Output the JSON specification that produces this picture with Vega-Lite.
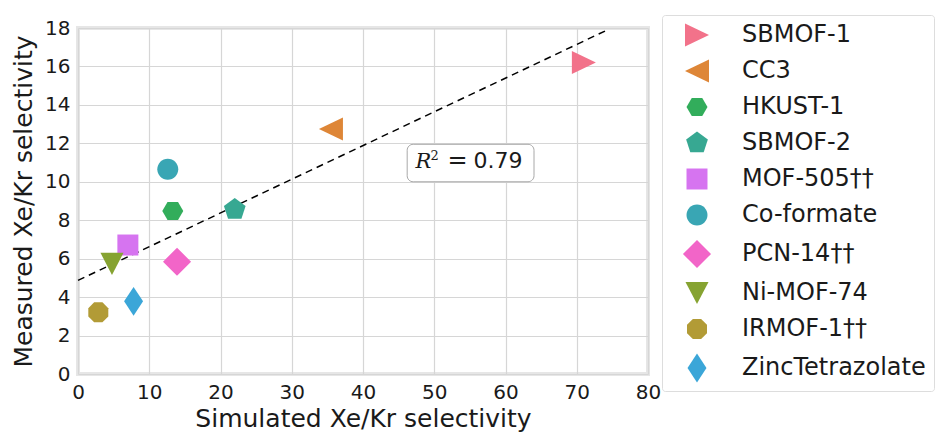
{
  "$schema": "https://vega.github.io/schema/vega-lite/v6.json",
  "width": 570,
  "height": 346,
  "autosize": {"type": "none"},
  "padding": {"left": 78, "top": 28, "right": 296, "bottom": 61},
  "background": "white",
  "config": {
    "font": "DejaVu Sans",
    "view": {"stroke": "#e6e6e6", "strokeWidth": 4},
    "axis": {
      "domain": false,
      "ticks": false,
      "gridColor": "#d6d6d6",
      "gridWidth": 1.2,
      "labelFont": "DejaVu Sans",
      "labelFontSize": 20,
      "labelColor": "#1a1a1a",
      "labelOverlap": false,
      "labelFlush": false,
      "titleFont": "DejaVu Sans",
      "titleFontSize": 25,
      "titleFontWeight": "normal",
      "titleColor": "#1a1a1a"
    },
    "legend": {
      "labelFont": "DejaVu Sans",
      "labelFontSize": 24,
      "labelColor": "#1a1a1a",
      "labelLimit": 400
    }
  },
  "datasets": {
    "pts": [
      {"material": "SBMOF-1", "simulated": 71.0, "measured": 16.2},
      {"material": "CC3", "simulated": 35.5, "measured": 12.75},
      {"material": "HKUST-1", "simulated": 13.3, "measured": 8.48},
      {"material": "SBMOF-2", "simulated": 22.0, "measured": 8.56},
      {"material": "MOF-505††", "simulated": 7.0, "measured": 6.71},
      {"material": "Co-formate", "simulated": 12.6, "measured": 10.65},
      {"material": "PCN-14††", "simulated": 13.9, "measured": 5.84},
      {"material": "Ni-MOF-74", "simulated": 4.77, "measured": 5.73},
      {"material": "IRMOF-1††", "simulated": 2.85, "measured": 3.21},
      {"material": "ZincTetrazolate", "simulated": 7.8, "measured": 3.78}
    ],
    "fit": [
      {"simulated": 0, "measured": 4.87},
      {"simulated": 74.3, "measured": 17.9}
    ],
    "annot": [
      {"x1": 46.2, "x2": 64.0, "y1": 10.0, "y2": 11.95, "xc": 55.1, "yb": 10.7}
    ]
  },
  "layer": [
    {
      "data": {"name": "fit"},
      "mark": {"type": "line", "color": "#000000", "strokeWidth": 1.5, "strokeDash": [7, 5]},
      "encoding": {
        "x": {"field": "simulated", "type": "quantitative",
              "scale": {"domain": [0, 80], "nice": false},
              "axis": {"values": [0,10,20,30,40,50,60,70,80], "title": "Simulated Xe/Kr selectivity", "labelPadding": 8, "titlePadding": 4}},
        "y": {"field": "measured", "type": "quantitative",
              "scale": {"domain": [0, 18], "nice": false},
              "axis": {"values": [0,2,4,6,8,10,12,14,16,18], "tickCount": 10, "title": "Measured Xe/Kr selectivity", "labelPadding": 8, "titlePadding": 8}}
      }
    },
    {
      "data": {"name": "pts"},
      "mark": {"type": "point", "filled": true, "opacity": 1, "size": 576, "strokeWidth": 0},
      "encoding": {
        "x": {"field": "simulated", "type": "quantitative",
              "axis": {"values": [0,10,20,30,40,50,60,70,80], "title": "Simulated Xe/Kr selectivity", "labelPadding": 8, "titlePadding": 4}},
        "y": {"field": "measured", "type": "quantitative",
              "axis": {"values": [0,2,4,6,8,10,12,14,16,18], "tickCount": 10, "title": "Measured Xe/Kr selectivity", "labelPadding": 8, "titlePadding": 8}},
        "color": {"field": "material", "type": "nominal",
          "scale": {
            "domain": ["SBMOF-1","CC3","HKUST-1","SBMOF-2","MOF-505††","Co-formate","PCN-14††","Ni-MOF-74","IRMOF-1††","ZincTetrazolate"],
            "range": ["#f2728a","#de8637","#32ad5b","#37a892","#d674f0","#39a6b4","#f265c8","#86a331","#b29b36","#3ba6d8"]
          },
          "legend": {
            "title": null,
            "orient": "none",
            "legendX": 584,
            "legendY": -13,
            "strokeColor": "#dddddd",
            "fillColor": "#ffffff",
            "cornerRadius": 3,
            "padding": 8,
            "symbolOffset": 15,
            "labelOffset": 33,
            "rowPadding": 12,
            "symbolSize": 576,
            "symbolStrokeWidth": 0,
            "symbolOpacity": 1
          }
        },
        "shape": {"field": "material", "type": "nominal",
          "scale": {
            "domain": ["SBMOF-1","CC3","HKUST-1","SBMOF-2","MOF-505††","Co-formate","PCN-14††","Ni-MOF-74","IRMOF-1††","ZincTetrazolate"],
            "range": [
              "M-1,-0.96L1,0L-1,0.96Z",
              "M1,-0.96L-1,0L1,0.96Z",
              "M0.875,0L0.4375,0.758L-0.4375,0.758L-0.875,0L-0.4375,-0.758L0.4375,-0.758Z",
              "M0,-0.95L0.904,-0.294L0.558,0.769L-0.558,0.769L-0.904,-0.294Z",
              "M-0.875,-0.875L0.875,-0.875L0.875,0.875L-0.875,0.875Z",
              "M0.875,0A0.875,0.875,0,1,1,-0.875,0A0.875,0.875,0,1,1,0.875,0Z",
              "M0,-1.17L1.17,0L0,1.17L-1.17,0Z",
              "M-0.96,-0.92L0.96,-0.92L0,0.92Z",
              "M0.833,-0.345L0.833,0.345L0.345,0.833L-0.345,0.833L-0.833,0.345L-0.833,-0.345L-0.345,-0.833L0.345,-0.833Z",
              "M0,-1.2L0.79,0L0,1.2L-0.79,0Z"
            ]
          }
        }
      }
    },
    {
      "data": {"name": "annot"},
      "mark": {"type": "rect", "fill": "#ffffff", "stroke": "#a8a8a8", "strokeWidth": 1, "cornerRadius": 6},
      "encoding": {
        "x": {"field": "x1", "type": "quantitative"},
        "x2": {"field": "x2"},
        "y": {"field": "y1", "type": "quantitative"},
        "y2": {"field": "y2"}
      }
    },
    {
      "data": {"name": "annot"},
      "mark": {"type": "text", "text": "R", "font": "DejaVu Serif", "fontStyle": "italic", "fontSize": 21, "align": "left", "baseline": "alphabetic", "dx": -55, "color": "#1a1a1a"},
      "encoding": {"x": {"field": "xc", "type": "quantitative"}, "y": {"field": "yb", "type": "quantitative"}}
    },
    {
      "data": {"name": "annot"},
      "mark": {"type": "text", "text": "2", "font": "DejaVu Serif", "fontSize": 13, "align": "left", "baseline": "alphabetic", "dx": -40, "dy": -8, "color": "#1a1a1a"},
      "encoding": {"x": {"field": "xc", "type": "quantitative"}, "y": {"field": "yb", "type": "quantitative"}}
    },
    {
      "data": {"name": "annot"},
      "mark": {"type": "text", "text": "=", "font": "DejaVu Serif", "fontSize": 24, "align": "left", "baseline": "alphabetic", "dx": -23, "color": "#1a1a1a"},
      "encoding": {"x": {"field": "xc", "type": "quantitative"}, "y": {"field": "yb", "type": "quantitative"}}
    },
    {
      "data": {"name": "annot"},
      "mark": {"type": "text", "text": "0.79", "font": "DejaVu Sans", "fontSize": 22, "align": "left", "baseline": "alphabetic", "dx": 3, "color": "#1a1a1a"},
      "encoding": {"x": {"field": "xc", "type": "quantitative"}, "y": {"field": "yb", "type": "quantitative"}}
    }
  ]
}
